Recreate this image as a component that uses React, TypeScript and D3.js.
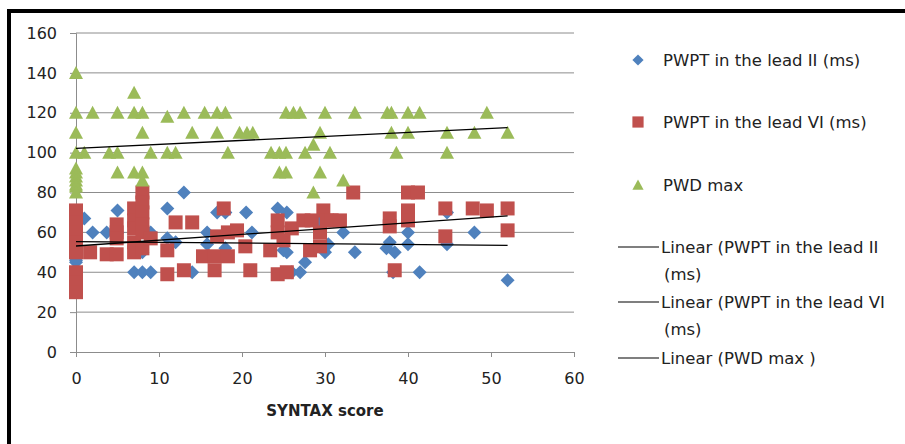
import * as d3 from 'd3';
import { useEffect, useRef } from 'react';

// PWPT in the lead II (ms)
const leadIIx = [0, 0, 0, 0, 0, 0, 0, 0, 1, 2, 3.7, 5, 5, 7, 8, 8, 9, 9, 11, 11, 12, 13, 14, 15.8, 15.8, 17, 18, 18, 20.5, 21.2, 24.3, 25, 25.4, 25.4, 26, 27, 27.6, 29.4, 30, 30.4, 32.2, 33.6, 37.4, 37.8, 38.4, 38.2, 40, 40, 41.4, 44.7, 44.7, 48, 52];
const leadIIy = [69, 67, 52, 46, 45, 40, 37, 35, 67, 60, 60, 71, 60, 40, 50, 40, 60, 40, 72, 57, 55, 80, 40, 60, 54, 70, 70, 52, 70, 60, 72, 51, 70, 50, 40, 40, 45, 66, 50, 54, 60, 50, 52, 55, 50, 40, 60, 54, 40, 70, 54, 60, 36];

// PWPT in the lead VI (ms)
const leadVIx = [0, 0, 0, 0, 0, 0, 0, 0, 1.7, 3.7, 4.9, 4.9, 4.9, 4.9, 7, 7, 7, 7, 7, 8, 8, 8, 8, 8, 8, 9, 11, 11, 12, 13, 14, 15.3, 16.7, 16.7, 17, 17.8, 18.3, 18.3, 19.4, 20.4, 21, 23.4, 24.3, 24.3, 24.3, 25, 25.4, 26, 27.4, 28.2, 28.4, 29.4, 29.4, 29.8, 30.2, 30.8, 31.8, 33.4, 37.8, 37.8, 38.4, 40, 40, 40, 41.2, 44.5, 44.5, 47.8, 49.5, 52, 52];
const leadVIy = [71, 65, 60, 55, 50, 40, 35, 30, 50, 49, 64, 60, 57, 49, 72, 66, 62, 55, 50, 80, 75, 70, 64, 60, 52, 57, 51, 39, 65, 41, 65, 48, 48, 41, 58, 72, 60, 48, 61, 53, 41, 51, 66, 60, 39, 56, 40, 62, 66, 51, 66, 60, 53, 71, 66, 66, 66, 80, 67, 63, 41, 80, 71, 66, 80, 72, 58, 72, 71, 72, 61];

// PWD max
const pwdX = [0, 0, 0, 0, 0, 0, 0, 0, 0, 0, 0, 1, 2, 4, 5, 5, 5, 7, 7, 7, 8, 8, 8, 8, 9, 11, 11, 12, 13, 14, 15.5, 17, 17, 18, 18.3, 19.7, 20.6, 21.3, 23.5, 24.5, 24.5, 25.3, 25.3, 25.3, 26.2, 27, 27.6, 28.6, 28.6, 29.4, 29.4, 30, 30.6, 32.2, 33.6, 37.5, 38, 38, 38.6, 40, 40, 41.4, 44.7, 44.7, 48, 49.5, 52];
const pwdY = [140, 120, 110, 100, 92, 90, 88, 86, 84, 83, 80, 100, 120, 100, 120, 100, 90, 130, 120, 90, 120, 110, 90, 86, 100, 118, 100, 100, 120, 110, 120, 120, 110, 120, 100, 110, 110, 110, 100, 100, 90, 120, 100, 90, 120, 120, 100, 104, 80, 110, 90, 120, 100, 86, 120, 120, 120, 110, 100, 120, 110, 120, 110, 100, 110, 120, 110];

const xTicks = [0, 10, 20, 30, 40, 50, 60];
const yTicks = [0, 20, 40, 60, 80, 100, 120, 140, 160];

const series = [
  { name: 'PWPT in the lead II (ms)', xs: leadIIx, ys: leadIIy, color: '#4F81BD', shape: 'diamond' },
  { name: 'PWPT in the lead VI (ms)', xs: leadVIx, ys: leadVIy, color: '#C0504D', shape: 'square' },
  { name: 'PWD max', xs: pwdX, ys: pwdY, color: '#9BBB59', shape: 'triangle' },
];

const trendLabels = [
  ['Linear (PWPT in the lead II', '(ms)'],
  ['Linear (PWPT in the lead VI', '(ms)'],
  ['Linear (PWD max )'],
];

function fit(xs: number[], ys: number[]) {
  const mx = d3.mean(xs) as number;
  const my = d3.mean(ys) as number;
  let num = 0, den = 0;
  xs.forEach((x, i) => { num += (x - mx) * (ys[i] - my); den += (x - mx) ** 2; });
  const b = num / den;
  return { a: my - b * mx, b };
}

function marker(g: any, shape: string, color: string, k = 1) {
  if (shape === 'diamond') {
    g.append('path').attr('d', `M0,${-7 * k}L${7 * k},0L0,${7 * k}L${-7 * k},0Z`).attr('fill', color);
  } else if (shape === 'square') {
    g.append('rect').attr('x', -7 * k).attr('y', -7 * k).attr('width', 14 * k).attr('height', 14 * k).attr('fill', color);
  } else {
    g.append('path').attr('d', `M0,${-7 * k}L${7 * k},${6 * k}L${-7 * k},${6 * k}Z`).attr('fill', color);
  }
}

export default function App() {
  const ref = useRef<SVGSVGElement>(null);

  useEffect(() => {
    const svg = d3.select(ref.current);
    svg.selectAll('*').remove();
    const font = 'DejaVu Sans, sans-serif';

    const x = d3.scaleLinear().domain([0, 60]).range([76, 574]);
    const y = d3.scaleLinear().domain([0, 160]).range([352, 33]);

    svg.append('rect').attr('width', 905).attr('height', 444).attr('fill', '#fff');
    svg.append('rect').attr('x', 9).attr('y', 11).attr('width', 940).attr('height', 480)
      .attr('fill', 'none').attr('stroke', '#000').attr('stroke-width', 4);

    // gridlines
    svg.append('g').selectAll('line').data(yTicks.slice(1)).join('line')
      .attr('x1', x(0)).attr('x2', x(60)).attr('y1', (d) => y(d)).attr('y2', (d) => y(d))
      .attr('stroke', '#8c8c8c').attr('stroke-width', 1);

    const yAxis = svg.append('g').attr('transform', `translate(${x(0)},0)`)
      .call(d3.axisLeft(y).tickValues(yTicks).tickSize(6).tickPadding(13));
    const xAxis = svg.append('g').attr('transform', `translate(0,${y(0)})`)
      .call(d3.axisBottom(x).tickValues(xTicks).tickSize(5).tickPadding(16));
    [yAxis, xAxis].forEach((ax) => {
      ax.select('.domain').attr('stroke', '#8c8c8c');
      ax.selectAll('.tick line').attr('stroke', '#8c8c8c');
      ax.selectAll('text').attr('font-family', font).attr('font-size', 16).attr('fill', '#222');
    });

    svg.append('text').attr('x', 325).attr('y', 416).attr('text-anchor', 'middle')
      .attr('font-family', font).attr('font-size', 15).attr('font-weight', 'bold').attr('fill', '#222')
      .text('SYNTAX score');

    series.forEach((s) => {
      const pts = s.xs.map((v, i) => [v, s.ys[i]]);
      svg.append('g').selectAll('g').data(pts).join('g')
        .attr('transform', (d) => `translate(${x(d[0])},${y(d[1])})`)
        .each(function () { marker(d3.select(this), s.shape, s.color); });
    });

    series.forEach((s) => {
      const { a, b } = fit(s.xs, s.ys);
      const x0 = 0, x1 = d3.max(s.xs) as number;
      svg.append('line').attr('x1', x(x0)).attr('x2', x(x1))
        .attr('y1', y(a + b * x0)).attr('y2', y(a + b * x1))
        .attr('stroke', '#000').attr('stroke-width', 1.3);
    });

    // legend
    const lg = svg.append('g').attr('font-family', font).attr('font-size', 16.5).attr('fill', '#222');
    const mY = [60, 122, 185];
    series.forEach((s, i) => {
      const g = lg.append('g').attr('transform', `translate(638,${mY[i]})`);
      marker(g, s.shape, s.color, 0.8);
      lg.append('text').attr('x', 663).attr('y', mY[i]).attr('dy', '0.35em').text(s.name);
    });
    const tY = [247, 302, 358];
    trendLabels.forEach((lines, i) => {
      lg.append('line').attr('x1', 618).attr('x2', 659).attr('y1', tY[i]).attr('y2', tY[i])
        .attr('stroke', '#000').attr('stroke-width', 1.2);
      lines.forEach((t, j) => {
        lg.append('text').attr('x', j === 0 ? 661 : 664).attr('y', tY[i] + j * 27).attr('dy', '0.35em').text(t);
      });
    });
  }, []);

  return (
    <svg ref={ref} width={905} height={444}
      style={{ position: 'absolute', left: 0, top: 0, display: 'block' }} />
  );
}
